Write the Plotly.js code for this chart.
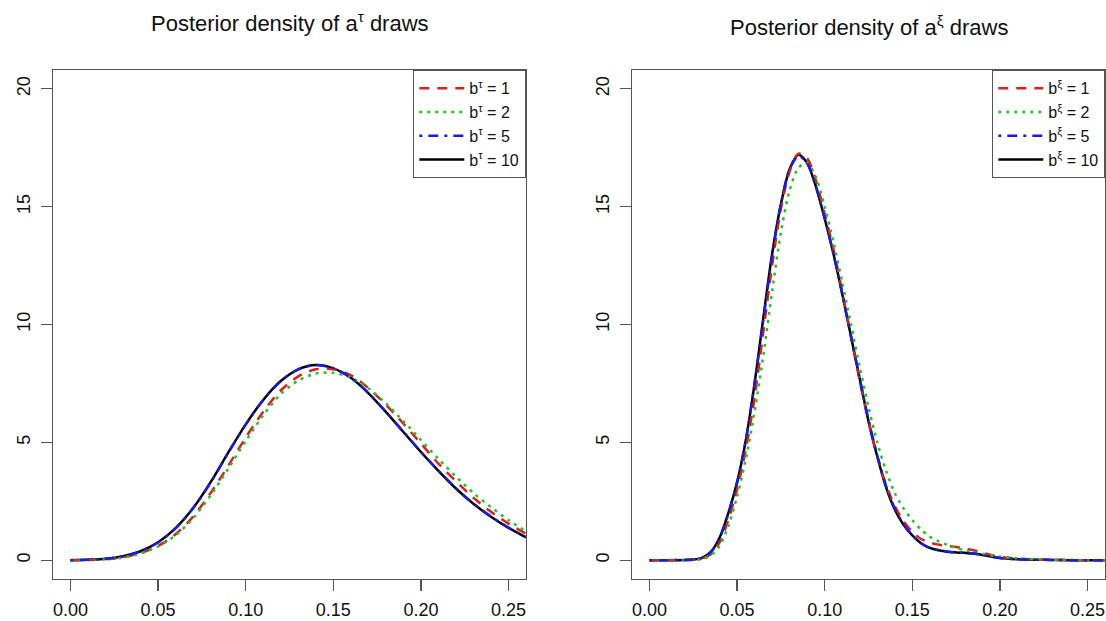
<!DOCTYPE html>
<html>
<head>
<meta charset="utf-8">
<script src="https://cdn.plot.ly/plotly-3.0.1.min.js"></script>
<style>
  html, body { margin: 0; padding: 0; background: #fff; }
  #plot { width: 1106px; height: 621px; }
</style>
</head>
<body>
<div id="plot"></div>
<script>
// Grid of a^tau values and the posterior density estimates for each b^tau
const xTau = [0, 0.01, 0.02, 0.03, 0.04, 0.05, 0.06, 0.07, 0.08, 0.09, 0.10, 0.11, 0.12,
              0.13, 0.14, 0.15, 0.16, 0.17, 0.18, 0.19, 0.20, 0.21, 0.22, 0.23, 0.24, 0.25, 0.26];
const tauB1  = [0, 0.01, 0.04, 0.12, 0.30, 0.60, 1.10, 1.85, 2.85, 4.00, 5.20, 6.30, 7.20,
                7.80, 8.10, 8.10, 7.85, 7.30, 6.60, 5.80, 4.95, 4.10, 3.35, 2.65, 2.05, 1.55, 1.12];
const tauB2  = [0, 0.01, 0.04, 0.11, 0.28, 0.58, 1.05, 1.78, 2.75, 3.88, 5.05, 6.15, 7.05,
                7.62, 7.92, 7.95, 7.75, 7.30, 6.65, 5.90, 5.10, 4.30, 3.55, 2.85, 2.25, 1.70, 1.22];
const tauB5  = [0, 0.02, 0.06, 0.17, 0.38, 0.75, 1.35, 2.20, 3.30, 4.55, 5.75, 6.80, 7.60,
                8.10, 8.28, 8.15, 7.75, 7.10, 6.30, 5.45, 4.60, 3.80, 3.05, 2.40, 1.85, 1.38, 0.98];
const tauB10 = [0, 0.02, 0.06, 0.17, 0.38, 0.76, 1.36, 2.21, 3.31, 4.56, 5.76, 6.80, 7.60,
                8.10, 8.28, 8.14, 7.74, 7.09, 6.29, 5.44, 4.59, 3.79, 3.04, 2.39, 1.84, 1.37, 0.97];

// Grid of a^xi values and the posterior density estimates for each b^xi
const xXi = [0, 0.01, 0.02, 0.025, 0.03, 0.035, 0.04, 0.045, 0.05, 0.055, 0.06, 0.065, 0.07,
             0.075, 0.08, 0.085, 0.09, 0.095, 0.10, 0.105, 0.11, 0.115, 0.12, 0.125, 0.13,
             0.135, 0.14, 0.145, 0.15, 0.155, 0.16, 0.165, 0.17, 0.175, 0.18, 0.185, 0.19,
             0.195, 0.20, 0.21, 0.22, 0.23, 0.24, 0.25, 0.26];
const xiB1  = [0, 0, 0.01, 0.02, 0.07, 0.25, 0.75, 1.7, 3.0, 4.7, 6.9, 9.7, 12.5, 14.9, 16.5,
               17.25, 17.05, 16.1, 14.7, 13.2, 11.4, 9.5, 7.6, 5.9, 4.4, 3.2, 2.3, 1.65, 1.2, 0.9,
               0.75, 0.66, 0.6, 0.56, 0.5, 0.42, 0.32, 0.22, 0.14, 0.06, 0.03, 0.01, 0, 0, 0];
const xiB2  = [0, 0, 0, 0.01, 0.05, 0.2, 0.6, 1.45, 2.7, 4.3, 6.3, 8.7, 11.4, 13.9, 15.7,
               16.65, 16.85, 16.25, 15.0, 13.5, 11.8, 10.0, 8.2, 6.5, 5.0, 3.8, 2.85, 2.2, 1.7, 1.3,
               1.0, 0.8, 0.65, 0.52, 0.42, 0.34, 0.27, 0.2, 0.15, 0.08, 0.04, 0.02, 0.01, 0, 0];
const xiB5  = [0, 0, 0.01, 0.03, 0.1, 0.34, 0.93, 1.97, 3.3, 5.1, 7.5, 10.2, 12.9, 15.1, 16.6,
               17.15, 16.85, 15.85, 14.5, 13.0, 11.3, 9.5, 7.7, 5.95, 4.45, 3.15, 2.2, 1.52, 1.05, 0.72,
               0.52, 0.42, 0.37, 0.33, 0.31, 0.28, 0.22, 0.15, 0.09, 0.04, 0.02, 0.01, 0, 0, 0];
const xiB10 = [0, 0, 0.01, 0.03, 0.1, 0.35, 0.95, 2.0, 3.3, 5.1, 7.5, 10.3, 13.0, 15.1, 16.6,
               17.2, 16.85, 15.85, 14.5, 13.0, 11.3, 9.5, 7.7, 5.9, 4.4, 3.1, 2.15, 1.5, 1.05, 0.72,
               0.52, 0.42, 0.36, 0.33, 0.31, 0.28, 0.22, 0.15, 0.09, 0.04, 0.02, 0.01, 0, 0, 0];

const bValues = [1, 2, 5, 10];
const xTicks = [0, 0.05, 0.10, 0.15, 0.20, 0.25];
const xTickText = ['0.00', '0.05', '0.10', '0.15', '0.20', '0.25'];
const yTicks = [0, 5, 10, 15, 20];

// line styles per b value (dashed, dotted, dot-dash, solid)
const styles = {
  1:  { color: '#d82222', dash: '10px,8px' },
  2:  { color: '#22c422', dash: '3px,5px' },
  5:  { color: '#1a1ae6', dash: '3px,6px,10px,6px' },
  10: { color: '#000000', dash: 'solid' }
};

const FONT = 'Liberation Sans, Arial, Helvetica, sans-serif';

function curve(x, y, b, sym, xa, ya, leg) {
  return {
    x: x, y: y, xaxis: xa, yaxis: ya, legend: leg,
    type: 'scatter', mode: 'lines',
    name: 'b<sup>' + sym + '</sup> = ' + b,
    legendrank: bValues.indexOf(b) + 1,
    line: { color: styles[b].color, dash: styles[b].dash, width: 2.5, shape: 'spline', smoothing: 0.8 },
    hoverinfo: 'skip'
  };
}

// solid b=10 curve goes first so the others sit on top of it
const data = [
  curve(xTau, tauB10, 10, 'τ', 'x', 'y', 'legend'),
  curve(xTau, tauB1, 1, 'τ', 'x', 'y', 'legend'),
  curve(xTau, tauB2, 2, 'τ', 'x', 'y', 'legend'),
  curve(xTau, tauB5, 5, 'τ', 'x', 'y', 'legend'),
  curve(xXi, xiB10, 10, 'ξ', 'x2', 'y2', 'legend2'),
  curve(xXi, xiB1, 1, 'ξ', 'x2', 'y2', 'legend2'),
  curve(xXi, xiB2, 2, 'ξ', 'x2', 'y2', 'legend2'),
  curve(xXi, xiB5, 5, 'ξ', 'x2', 'y2', 'legend2')
];

const AX = '#555555';
function xAxis(domain, anchor) {
  return {
    domain: domain, anchor: anchor, range: [-0.01, 0.26],
    tickvals: xTicks, ticktext: xTickText,
    ticks: 'outside', ticklen: 11, tickwidth: 1.3, tickcolor: AX,
    showline: true, linecolor: AX, linewidth: 1.3, mirror: true,
    showgrid: false, zeroline: false, ticklabelstandoff: 3,
    tickfont: { family: FONT, size: 18, color: '#111' }
  };
}
function yAxis(anchor) {
  return {
    domain: [0.0676, 0.8873], anchor: anchor, range: [-0.8, 20.8],
    tickvals: yTicks, tickangle: -90,
    ticks: 'outside', ticklen: 11, tickwidth: 1.3, tickcolor: AX,
    showline: true, linecolor: AX, linewidth: 1.3, mirror: true,
    showgrid: false, zeroline: false, ticklabelstandoff: 3,
    tickfont: { family: FONT, size: 18, color: '#111' }
  };
}
function legendBox(xRight) {
  return {
    x: xRight, xanchor: 'right', y: 0.8873, yanchor: 'top',
    xref: 'paper', yref: 'paper',
    bgcolor: 'rgba(255,255,255,1)', bordercolor: AX, borderwidth: 1.3,
    font: { family: FONT, size: 16, color: '#111' },
    itemwidth: 45, tracegroupgap: 0, traceorder: 'normal'
  };
}

const layout = {
  width: 1106, height: 621,
  margin: { l: 0, r: 0, t: 0, b: 0 },
  paper_bgcolor: '#fff', plot_bgcolor: '#fff',
  showlegend: true,
  xaxis: xAxis([0.0479, 0.4756], 'y'),
  yaxis: yAxis('x'),
  xaxis2: xAxis([0.5714, 0.9991], 'y2'),
  yaxis2: yAxis('x2'),
  legend: legendBox(0.4756),
  legend2: legendBox(0.9991),
  annotations: [
    { text: 'Posterior density of a<sup>τ</sup> draws', xref: 'paper', yref: 'paper',
      x: 0.2618, y: 1 - 22 / 621, xanchor: 'center', yanchor: 'middle', showarrow: false,
      font: { family: FONT, size: 22, color: '#111' } },
    { text: 'Posterior density of a<sup>ξ</sup> draws', xref: 'paper', yref: 'paper',
      x: 0.7853, y: 1 - 26 / 621, xanchor: 'center', yanchor: 'middle', showarrow: false,
      font: { family: FONT, size: 22, color: '#111' } }
  ]
};

Plotly.newPlot('plot', data, layout, { displayModeBar: false, staticPlot: true });
</script>
</body>
</html>
